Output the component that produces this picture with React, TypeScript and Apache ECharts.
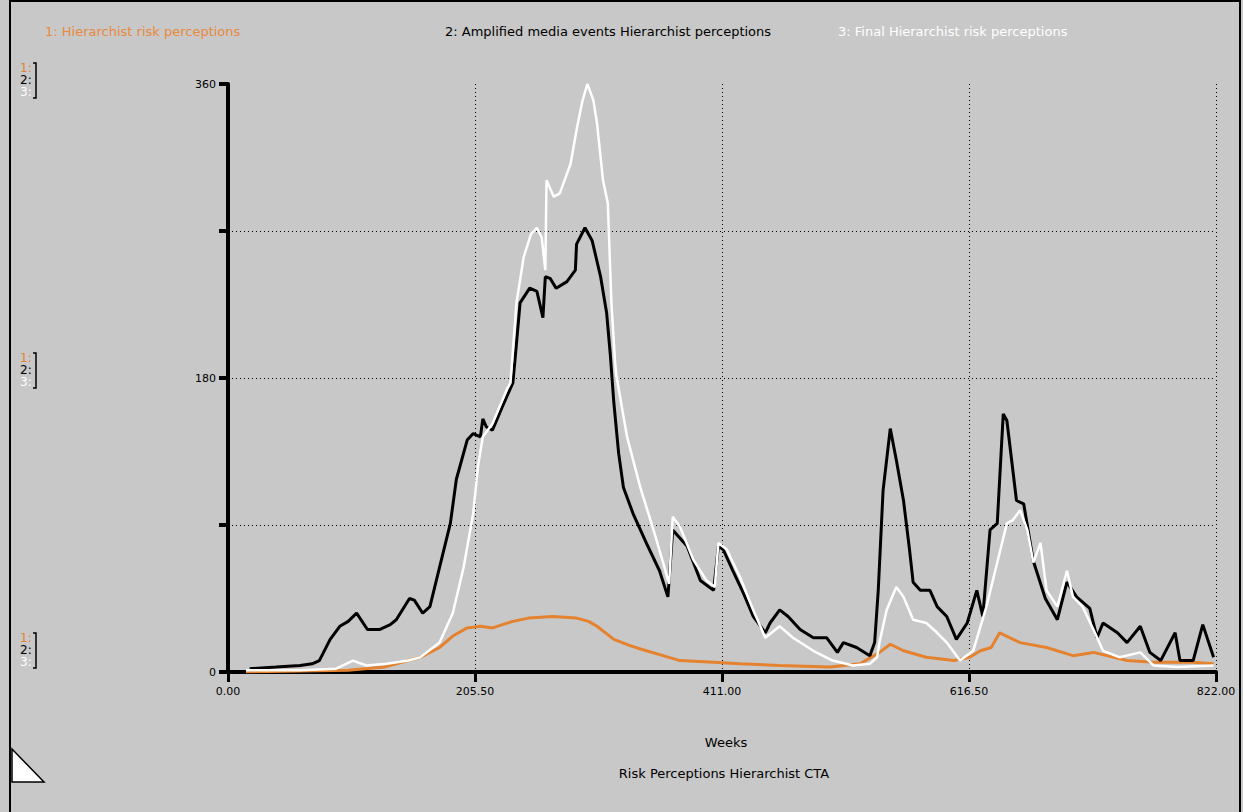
import React, { useEffect, useRef } from "react";
import * as echarts from "echarts";

const seriesNames = [
  "1: Hierarchist risk perceptions",
  "2: Amplified media events Hierarchist perceptions",
  "3: Final Hierarchist risk perceptions",
];

const xTicks = [0, 205.5, 411, 616.5, 822];
const yLabelled = [0, 180, 360];
const gridLevels = [90, 180, 270];

const orangeWeeks = [15, 100, 130, 160, 176, 187, 199, 210, 220, 237, 250, 270, 290, 300, 307, 321, 335, 348, 362, 376, 404, 426, 459, 501, 526, 542, 551, 562, 581, 604, 617, 626, 635, 642, 659, 681, 703, 720, 737, 748, 770, 803, 820];
const orangeValues = [0, 1, 3, 9, 15, 22, 27, 28, 27, 31, 33, 34, 33, 31, 28, 20, 16, 13, 10, 7, 6, 5, 4, 3, 5, 12, 17, 13, 9, 7, 9, 13, 15, 24, 18, 15, 10, 12, 9, 7, 6, 6, 5];

const blackWeeks = [18, 40, 60, 70, 76, 85, 93, 100, 107, 116, 126, 135, 140, 151, 155, 162, 168, 176, 185, 190, 199, 204, 210, 212, 215, 220, 228, 237, 240, 243, 251, 257, 262, 264, 268, 273, 282, 289, 290, 297, 303, 310, 315, 318, 321, 325, 329, 337, 348, 359, 366, 370, 382, 393, 404, 408, 412, 420, 429, 437, 447, 451, 459, 466, 476, 487, 498, 507, 512, 523, 534, 538, 541, 545, 551, 556, 562, 567, 570, 576, 584, 590, 598, 606, 615, 623, 628, 634, 640, 645, 648, 656, 662, 670, 680, 690, 698, 706, 717, 723, 728, 740, 748, 759, 767, 776, 788, 792, 803, 811, 820];
const blackValues = [2, 3, 4, 5, 7, 20, 28, 31, 36, 26, 26, 29, 32, 45, 44, 36, 40, 64, 91, 118, 142, 146, 144, 155, 150, 148, 162, 177, 201, 226, 235, 233, 217, 242, 241, 235, 239, 246, 262, 272, 264, 242, 220, 195, 165, 134, 113, 97, 79, 62, 46, 87, 77, 56, 50, 77, 75, 62, 48, 34, 24, 30, 38, 34, 26, 21, 21, 12, 18, 15, 10, 18, 50, 111, 149, 130, 105, 75, 55, 50, 50, 40, 34, 20, 30, 50, 34, 87, 91, 158, 154, 105, 103, 68, 45, 32, 55, 46, 39, 21, 30, 24, 18, 28, 12, 7, 24, 7, 7, 29, 9];

const whiteWeeks = [15, 60, 90, 104, 115, 132, 150, 160, 176, 187, 196, 204, 208, 212, 220, 232, 235, 240, 246, 252, 257, 261, 264, 265, 271, 276, 285, 290, 295, 299, 304, 307, 312, 316, 319, 322, 323, 332, 343, 354, 362, 367, 370, 376, 387, 398, 405, 408, 415, 426, 437, 447, 459, 470, 487, 503, 520, 534, 540, 542, 548, 556, 562, 570, 581, 590, 598, 609, 620, 631, 640, 648, 653, 659, 665, 670, 676, 681, 690, 698, 703, 711, 720, 728, 742, 759, 770, 790, 820];
const whiteValues = [1, 1, 2, 7, 4, 5, 7, 9, 18, 36, 64, 97, 126, 144, 152, 173, 177, 226, 254, 268, 272, 266, 246, 301, 291, 293, 311, 332, 350, 360, 350, 336, 301, 287, 226, 190, 182, 144, 113, 87, 67, 54, 95, 89, 69, 56, 52, 79, 75, 58, 38, 21, 28, 21, 13, 7, 4, 5, 9, 18, 38, 52, 46, 32, 30, 24, 18, 7, 13, 40, 67, 91, 93, 99, 87, 67, 79, 50, 40, 62, 46, 40, 26, 13, 9, 12, 4, 3, 4];

const seriesColors = ["#e5822f", "#000000", "#ffffff"];
const FONT = "'DejaVu Sans', 'Liberation Sans', sans-serif";

function pairs(xs: number[], ys: number[]) {
  return xs.map((x, i) => [x, ys[i]]);
}

export default function App() {
  const ref = useRef<HTMLDivElement>(null);
  useEffect(() => {
    document.body.style.margin = "0";
    const chart = echarts.init(ref.current!, null, { renderer: "svg" });

    const markerGroups = [62, 352, 632];
    const markerGraphics: any[] = [];
    markerGroups.forEach((top) => {
      ["1:", "2:", "3:"].forEach((t, i) => {
        markerGraphics.push({
          type: "text",
          left: 20,
          top: top + i * 12,
          style: { text: t, fill: seriesColors[i], font: `12px ${FONT}` },
        });
      });
      markerGraphics.push({
        type: "polyline",
        shape: { points: [[33, top + 1], [36, top + 1], [36, top + 36], [33, top + 36]] },
        style: { stroke: "#000", lineWidth: 1.5, fill: "none" },
      });
    });

    const lineSeries = [
      { name: seriesNames[0], data: pairs(orangeWeeks, orangeValues), color: seriesColors[0], width: 3 },
      { name: seriesNames[1], data: pairs(blackWeeks, blackValues), color: seriesColors[1], width: 3 },
      { name: seriesNames[2], data: pairs(whiteWeeks, whiteValues), color: seriesColors[2], width: 2.5 },
    ];

    chart.setOption({
      animation: false,
      backgroundColor: "#c8c8c8",
      grid: { left: 228, right: 27, top: 84, bottom: 140, containLabel: false },
      xAxis: {
        type: "value",
        min: 0,
        max: 822,
        interval: 205.5,
        axisLine: { show: true, lineStyle: { color: "#000", width: 4 } },
        axisTick: { show: true, length: 10, lineStyle: { color: "#000", width: 3 } },
        axisLabel: {
          color: "#000",
          fontFamily: FONT,
          fontSize: 11,
          margin: 14,
          formatter: (v: number) => v.toFixed(2),
        },
        splitLine: { show: true, lineStyle: { color: "#000", type: [1, 3], width: 1 } },
      },
      yAxis: {
        type: "value",
        min: 0,
        max: 360,
        interval: 90,
        axisLine: { show: true, lineStyle: { color: "#000", width: 4 } },
        axisTick: { show: true, length: 9, lineStyle: { color: "#000", width: 4 } },
        axisLabel: {
          color: "#000",
          fontFamily: FONT,
          fontSize: 11,
          margin: 12,
          formatter: (v: number) => (yLabelled.indexOf(v) >= 0 ? String(v) : ""),
        },
        splitLine: { show: false },
      },
      series: lineSeries.map((s, idx) => ({
        type: "line",
        name: s.name,
        data: s.data,
        showSymbol: false,
        symbol: "none",
        lineStyle: { color: s.color, width: s.width },
        itemStyle: { color: s.color },
        z: 3 + idx,
        markLine:
          idx === 0
            ? {
                silent: true,
                symbol: "none",
                label: { show: false },
                lineStyle: { color: "#000", type: [1, 3], width: 1 },
                data: gridLevels.map((g) => ({ yAxis: g })),
              }
            : undefined,
      })),
      graphic: [
        {
          type: "rect",
          shape: { x: 10, y: 1, width: 1230, height: 812 },
          style: { fill: "none", stroke: "#000", lineWidth: 2 },
          silent: true,
        },
        {
          type: "text",
          left: 45,
          top: 25,
          style: { text: seriesNames[0], fill: "#e8893b", font: `13px ${FONT}` },
        },
        {
          type: "text",
          left: 445,
          top: 25,
          style: { text: seriesNames[1], fill: "#000", font: `13px ${FONT}` },
        },
        {
          type: "text",
          left: 838,
          top: 25,
          style: { text: seriesNames[2], fill: "#fff", font: `13px ${FONT}` },
        },
        {
          type: "text",
          x: 726,
          y: 742,
          style: { text: "Weeks", fill: "#000", font: `13px ${FONT}`, align: "center", verticalAlign: "middle" },
        },
        {
          type: "text",
          x: 724,
          y: 773,
          style: { text: "Risk Perceptions Hierarchist CTA", fill: "#000", font: `13px ${FONT}`, align: "center", verticalAlign: "middle" },
        },
        {
          type: "polygon",
          shape: { points: [[12, 749], [44, 782], [12, 782]] },
          style: { fill: "#ffffff", stroke: "#000", lineWidth: 1.5 },
        },
        ...markerGraphics,
      ],
    });
    return () => chart.dispose();
  }, []);
  return <div ref={ref} style={{ width: 1243, height: 812 }} />;
}
